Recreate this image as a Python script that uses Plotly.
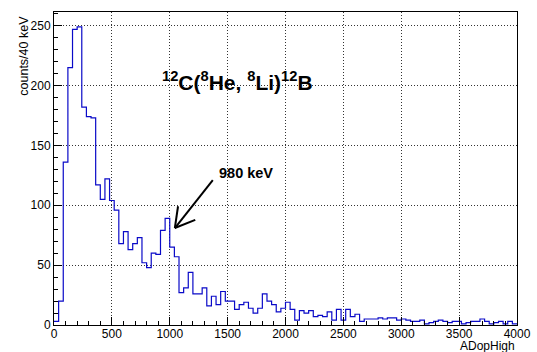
import numpy as np
import plotly.graph_objects as go

# Histogram of ADopHigh, 40 keV bins from 0 to 4000 keV
bin_width_kev = 40
x_min, x_max = 0, 4000
counts = [
    3, 20, 136, 215, 247, 249, 182, 174, 173, 117,
    105, 122, 104, 96, 68, 78, 63, 68, 73, 52,
    48, 60, 59, 79, 89, 65, 57, 27, 31, 44,
    26, 26, 31, 16, 24, 17, 28, 20, 20, 13,
    17, 19, 14, 10, 14, 26, 20, 17, 11, 14,
    19, 13, 4, 12, 10, 12, 7, 8, 7, 11,
    4, 13, 4, 13, 7, 9, 3, 5, 5, 5,
    6, 5, 6, 6, 4, 5, 4, 3, 3, 4,
    1, 2, 3, 4, 3, 2, 3, 3, 1, 2,
    3, 3, 5, 3, 1, 2, 3, 1, 3, 1,
]
x_ticks = [0, 500, 1000, 1500, 2000, 2500, 3000, 3500, 4000]
y_ticks = [0, 50, 100, 150, 200, 250]

reaction_label = "<sup>12</sup>C(<sup>8</sup>He, <sup>8</sup>Li)<sup>12</sup>B"
peak_label = "980 keV"

edges = np.arange(len(counts) + 1) * bin_width_kev + x_min
step_y = list(counts) + [counts[-1]]
y_max = 1.05 * max(counts)

FONT = "Liberation Sans, Arial, Helvetica, sans-serif"

fig = go.Figure()
fig.add_trace(go.Scatter(
    x=edges, y=step_y, mode="lines",
    line=dict(shape="hv", color="#0a0ac8", width=1.2),
    hoverinfo="skip", showlegend=False,
))

axis_common = dict(
    showline=True, linecolor="black", linewidth=1, mirror=True,
    showgrid=True, gridcolor="#333333", gridwidth=1, griddash="1px,2px",
    ticks="inside", ticklen=8, tickcolor="black", tickwidth=1,
    zeroline=False, automargin=False,
    tickfont=dict(family=FONT, size=12, color="black"),
)

fig.update_xaxes(
    range=[x_min, x_max], tickvals=x_ticks, ticklabelstandoff=-2,
    minor=dict(ticks="inside", dtick=100, ticklen=4, tickcolor="black", showgrid=False),
    **axis_common,
)
fig.update_yaxes(
    range=[0, y_max], tickvals=y_ticks,
    minor=dict(ticks="inside", dtick=10, ticklen=4, tickcolor="black", showgrid=False),
    **axis_common,
)

# Arrow pointing at the 980 keV peak: shaft in data units, head in pixels
tip_x, tip_y = 1044, 81
tail_x, tail_y = 1372, 121
fig.add_shape(type="line", xref="x", yref="y",
              x0=tip_x, y0=tip_y, x1=tail_x, y1=tail_y,
              line=dict(color="black", width=2))
for dx, dy in [(3.2, 21.8), (20.4, 8.1)]:
    fig.add_shape(type="line", xref="x", yref="y",
                  xsizemode="pixel", ysizemode="pixel",
                  xanchor=tip_x, yanchor=tip_y,
                  x0=0, y0=0, x1=dx, y1=dy,
                  line=dict(color="black", width=2))

fig.add_annotation(x=1587, y=204, xref="x", yref="y", text="<b>" + reaction_label + "</b>",
                   showarrow=False, font=dict(family=FONT, size=21, color="black"),
                   xanchor="center", yanchor="middle")
fig.add_annotation(x=1660, y=127, xref="x", yref="y", text="<b>" + peak_label + "</b>",
                   showarrow=False, font=dict(family=FONT, size=14.5, color="black"),
                   xanchor="center", yanchor="middle")

# Axis titles, ROOT-style at the axis ends
fig.add_annotation(x=-0.065, y=0.86, xref="paper", yref="paper", text="counts/40 keV",
                   textangle=-90, showarrow=False, xanchor="center", yanchor="middle",
                   font=dict(family=FONT, size=12.5, color="black"))
fig.add_annotation(x=1.0, y=-0.066, xref="paper", yref="paper", text="ADopHigh",
                   showarrow=False, xanchor="right", yanchor="middle",
                   font=dict(family=FONT, size=12, color="black"))

fig.update_layout(
    width=537, height=352,
    margin=dict(l=54, r=20, t=12, b=27),
    paper_bgcolor="white", plot_bgcolor="white",
    font=dict(family=FONT, color="black"),
)

fig.write_html("out.html")
